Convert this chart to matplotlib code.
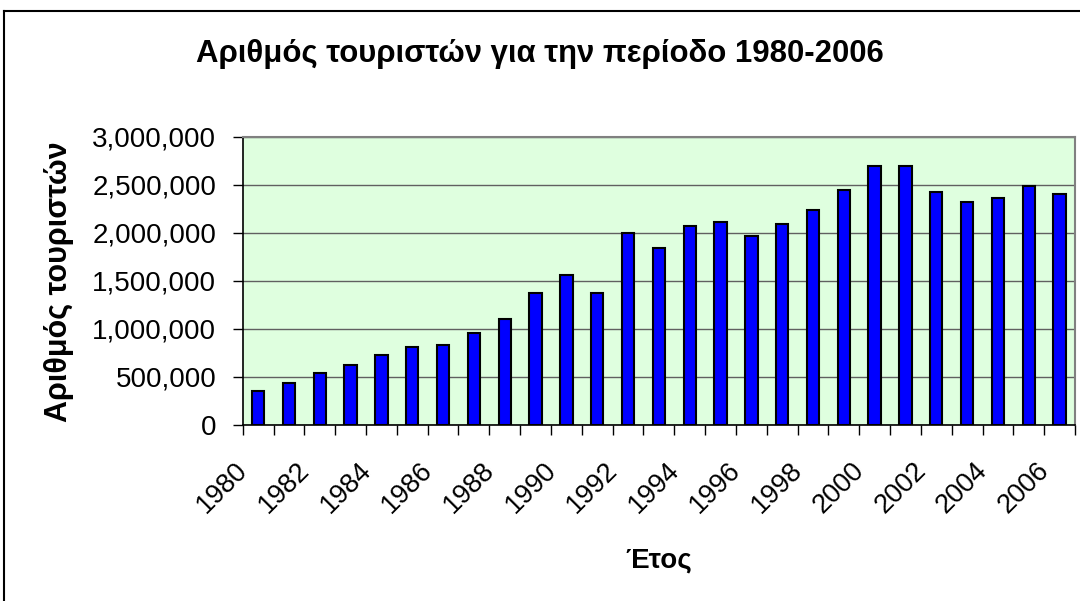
import matplotlib
matplotlib.use("Agg")
import matplotlib.pyplot as plt
from matplotlib.lines import Line2D
from matplotlib.ticker import FuncFormatter, FixedLocator
from matplotlib.transforms import ScaledTranslation
import numpy as np

plt.rcParams["font.family"] = ["Liberation Sans", "DejaVu Sans"]

years = list(range(1980, 2007))
tourists = [357000, 441000, 545000, 628000, 733000, 816000, 837000, 962000,
            1108000, 1378000, 1566000, 1378000, 2003000, 1837000, 2066000,
            2108000, 1962000, 2087000, 2233000, 2441000, 2691000, 2691000,
            2420000, 2316000, 2358000, 2483000, 2399000]

title = "Αριθμός τουριστών για την περίοδο 1980-2006"
ylabel = "Αριθμός τουριστών"
xlabel = "Έτος"

W, H = 1080, 601
fig = plt.figure(figsize=(W / 100, H / 100), dpi=100)
ax = fig.add_axes([0.2247, 0.2929, 0.7707, 0.4796])
ax.set_facecolor("#DFFFDF")

x = np.arange(len(years))
ax.bar(x, tourists, width=0.4, color="#0000FF", edgecolor="black",
       linewidth=1.5, zorder=3)

ax.set_xlim(-0.5, len(years) - 0.5)
ax.set_ylim(0, 3000000)

# y axis
ax.set_yticks(np.arange(0, 3000001, 500000))
ax.yaxis.set_major_formatter(FuncFormatter(lambda v, p: f"{int(v):,}"))
ax.tick_params(axis="y", direction="out", length=7, width=1, labelsize=20,
               pad=12)
ax.grid(axis="y", color="#606060", linewidth=1, zorder=1)

# x axis: tick marks between categories, labels every second year
ax.xaxis.set_minor_locator(FixedLocator(np.arange(-0.5, len(years), 1)))
ax.set_xticks(x[::2])
ax.set_xticklabels([str(y) for y in years[::2]], rotation=45, ha="right",
                   va="top", rotation_mode="anchor")
ax.tick_params(axis="x", which="major", length=0, labelsize=19.5, pad=23.5)
ax.tick_params(axis="x", which="minor", direction="out", length=7, width=1)
shift = ScaledTranslation(-23.5 / 100, 0, fig.dpi_scale_trans)
for lbl in ax.get_xticklabels():
    lbl.set_transform(lbl.get_transform() + shift)

for side in ("top", "right"):
    ax.spines[side].set_color("#808080")
    ax.spines[side].set_linewidth(1.5)
for side in ("left", "bottom"):
    ax.spines[side].set_color("black")
    ax.spines[side].set_linewidth(1.2)

ax.set_ylabel(ylabel, fontsize=22, fontweight="bold", va="baseline")
ax.yaxis.set_label_coords(-0.2115, 0.497)
ax.set_xlabel(xlabel, fontsize=20, fontweight="bold", va="baseline")
ax.xaxis.set_label_coords(0.5, -0.496)

fig.text(0.5, 1 - 62 / H, title, fontsize=22.4, fontweight="bold",
         ha="center", va="baseline")

# chart area frame (only top and left edges fall inside the image)
fig.add_artist(Line2D([4 / W, 1], [1 - 11 / H, 1 - 11 / H],
                      transform=fig.transFigure, color="black", linewidth=1.5))
fig.add_artist(Line2D([4 / W, 4 / W], [0, 1 - 11 / H],
                      transform=fig.transFigure, color="black", linewidth=1.5))

fig.savefig("out.png", dpi=100)
